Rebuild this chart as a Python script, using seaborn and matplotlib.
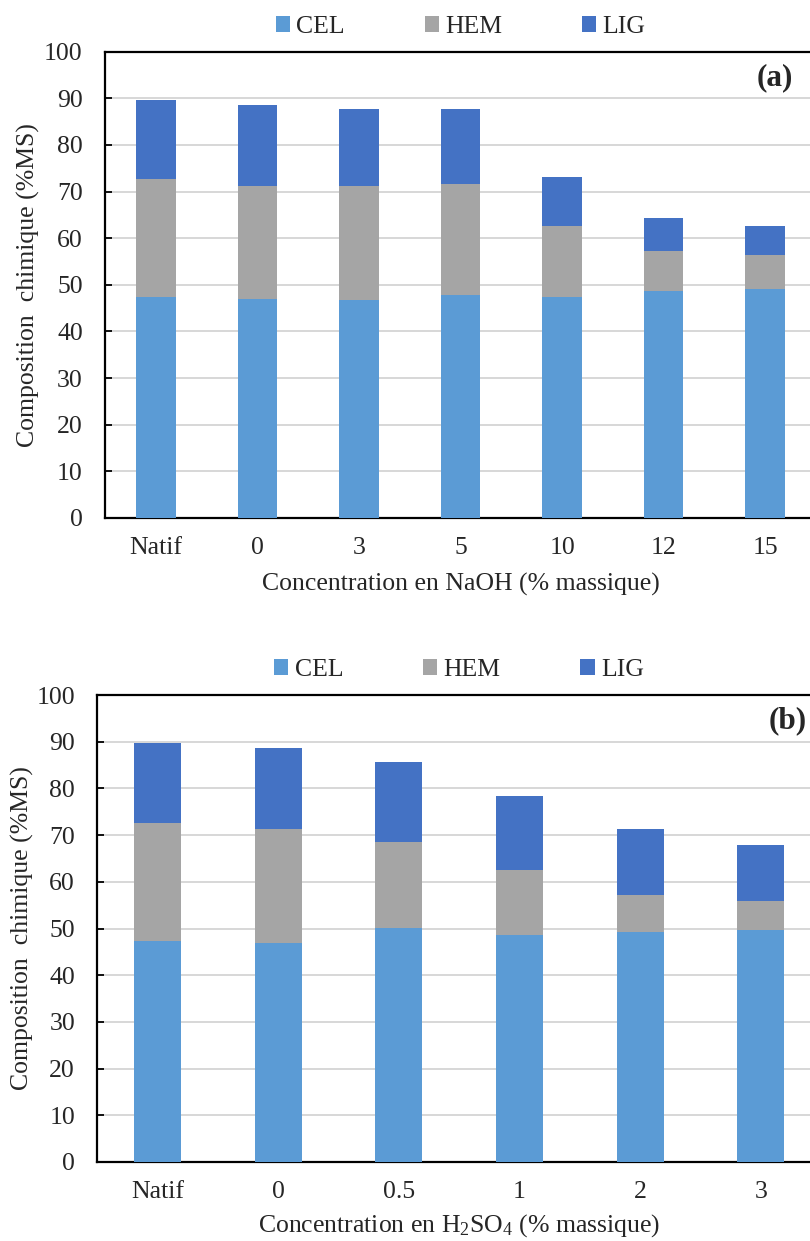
import matplotlib
matplotlib.use("Agg")
import matplotlib.pyplot as plt
import seaborn as sns
import pandas as pd
import numpy as np
from matplotlib.patches import Patch

# ---- data ----
cats_a = ["Natif", "0", "3", "5", "10", "12", "15"]
cel_a = [47.3, 46.9, 46.7, 47.9, 47.5, 48.6, 49.2]
hem_a = [25.3, 24.2, 24.4, 23.7, 15.2, 8.6, 7.3]
lig_a = [17.1, 17.5, 16.6, 16.1, 10.5, 7.2, 6.1]

cats_b = ["Natif", "0", "0.5", "1", "2", "3"]
cel_b = [47.3, 46.9, 50.2, 48.7, 49.2, 49.6]
hem_b = [25.3, 24.3, 18.4, 13.9, 8.0, 6.2]
lig_b = [17.1, 17.4, 17.0, 15.8, 14.2, 12.0]

series = ["CEL", "HEM", "LIG"]
colors = {"CEL": "#5B9BD5", "HEM": "#A5A5A5", "LIG": "#4472C4"}

sns.set_theme(style="white")
plt.rcParams["font.family"] = ["Liberation Serif", "DejaVu Serif"]
plt.rcParams["mathtext.fontset"] = "custom"
plt.rcParams["mathtext.rm"] = "Liberation Serif"
plt.rcParams["mathtext.it"] = "Liberation Serif:italic"

fig = plt.figure(figsize=(8.1, 12.41), dpi=100)
ax_a = fig.add_axes([105/810, 1 - 518/1241, (816-105)/810, (518-51.7)/1241])
ax_b = fig.add_axes([97.3/810, 1 - 1162/1241, (821-97.3)/810, (1162-695)/1241])

FS = 18.5

def draw(ax, cats, cel, hem, lig, xlabel, tag, tag_x, ylpad, xlpad):
    df = pd.DataFrame({"cat": cats, "cel": cel, "hem": hem, "lig": lig})
    df["c1"] = df["cel"]
    df["c2"] = df["cel"] + df["hem"]
    df["c3"] = df["c2"] + df["lig"]
    for col, name in [("c3", "LIG"), ("c2", "HEM"), ("c1", "CEL")]:
        sns.barplot(data=df, x="cat", y=col, ax=ax, color=colors[name],
                    width=0.39, saturation=1, order=cats, zorder=3,
                    edgecolor="none")
    ax.set_ylim(0, 100)
    ax.set_xlim(-0.5, len(cats) - 0.5)
    ax.set_yticks(np.arange(0, 101, 10))
    ax.yaxis.grid(True, color="#D4D4D4", linewidth=1.3, zorder=0)
    ax.xaxis.grid(False)
    ax.set_axisbelow(True)
    for s in ax.spines.values():
        s.set_color("black")
        s.set_linewidth(1.6)
        s.set_visible(True)
    ax.tick_params(axis="y", labelsize=FS, direction="in", length=5, width=1.3,
                   color="black", pad=16, left=True)
    ax.tick_params(axis="x", labelsize=FS, length=0, pad=14)
    ax.set_xlabel(xlabel, fontsize=FS, labelpad=xlpad)
    ax.set_ylabel("Composition  chimique (%MS)", fontsize=FS, labelpad=ylpad)
    ax.text(tag_x, 0.975, tag, transform=ax.transAxes, ha="right", va="top",
            fontsize=FS + 4, fontweight="bold")
    handles = [Patch(facecolor=colors[s], edgecolor="none") for s in series]
    ax.legend(handles, series, loc="center", bbox_to_anchor=(0.50, 1.053),
              ncol=3, frameon=False, fontsize=FS, handlelength=0.55,
              handleheight=0.55, handletextpad=0.25, columnspacing=3.1)

draw(ax_a, cats_a, cel_a, hem_a, lig_a,
     "Concentration en NaOH (% massique)", "(a)", 0.968, 3, 10)
draw(ax_b, cats_b, cel_b, hem_b, lig_b,
     r"Concentration en H$_2$SO$_4$ (% massique)", "(b)", 0.98, 2, 6)

fig.savefig("out.png", dpi=100)
